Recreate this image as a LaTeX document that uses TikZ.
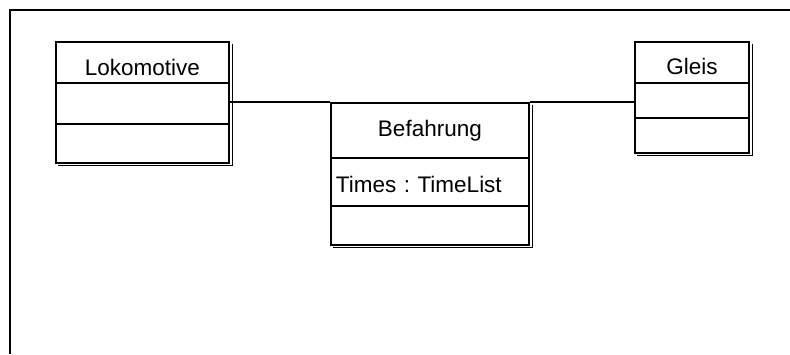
\documentclass[tikz,border=0pt]{standalone}
\usepackage{fontspec}
\setmainfont{Liberation Sans}
\begin{document}
\frenchspacing
\begin{tikzpicture}[x=1pt,y=-1pt,
  comp/.style={draw, line width=1.8pt, anchor=north west, inner sep=0pt,
    font=\fontsize{22.5}{26}\selectfont},
  shadowline/.style={draw=black, line width=0.9pt},
  conn/.style={draw, line width=1.6pt},
  frameline/.style={draw, line width=2pt}]
\useasboundingbox (0,0) rectangle (790,354);
% frame
\coordinate (fbl) at (10,354);
\coordinate (ftr) at (790,10);
\draw[frameline] (fbl) |- (ftr);
% Lokomotive
\node[comp, minimum width=173pt, minimum height=41pt, text height=27pt, text depth=0pt] (lokT) at (55,41) {Lokomotive};
\node[comp, minimum width=173pt, minimum height=41pt] (lokA) at (55,82) {};
\node[comp, minimum width=173pt, minimum height=39pt] (lokO) at (55,123) {};
\draw[shadowline] ([shift={(2.5,2.5)}]lokT.north east) |- ([shift={(2.5,2)}]lokO.south west);
% Befahrung
\node[comp, minimum width=198pt, minimum height=55pt, text height=16pt, text depth=4pt] (befT) at (330,102) {Befahrung};
\node[comp, minimum height=48pt, inner xsep=5pt, text width=188pt, align=left, text height=22pt, text depth=0pt] (befA) at (330,157) {Times : TimeList};
\node[comp, minimum width=198pt, minimum height=39pt] (befO) at (330,205) {};
\draw[shadowline] ([shift={(2.5,2.5)}]befT.north east) |- ([shift={(2.5,2)}]befO.south west);
% Gleis
\node[comp, minimum width=114pt, minimum height=41pt, text height=24pt, text depth=0pt] (gleisT) at (634,41) {Gleis};
\node[comp, minimum width=114pt, minimum height=35pt] (gleisA) at (634,82) {};
\node[comp, minimum width=114pt, minimum height=35pt] (gleisO) at (634,117) {};
\draw[shadowline] ([shift={(2.5,2.5)}]gleisT.north east) |- ([shift={(2.5,2)}]gleisO.south west);
% connectors
\draw[conn] (lokA.east |- befT.north west) -- (befT.north west);
\draw[conn] (befT.north east) -- (gleisA.west |- befT.north east);
\end{tikzpicture}
\end{document}
